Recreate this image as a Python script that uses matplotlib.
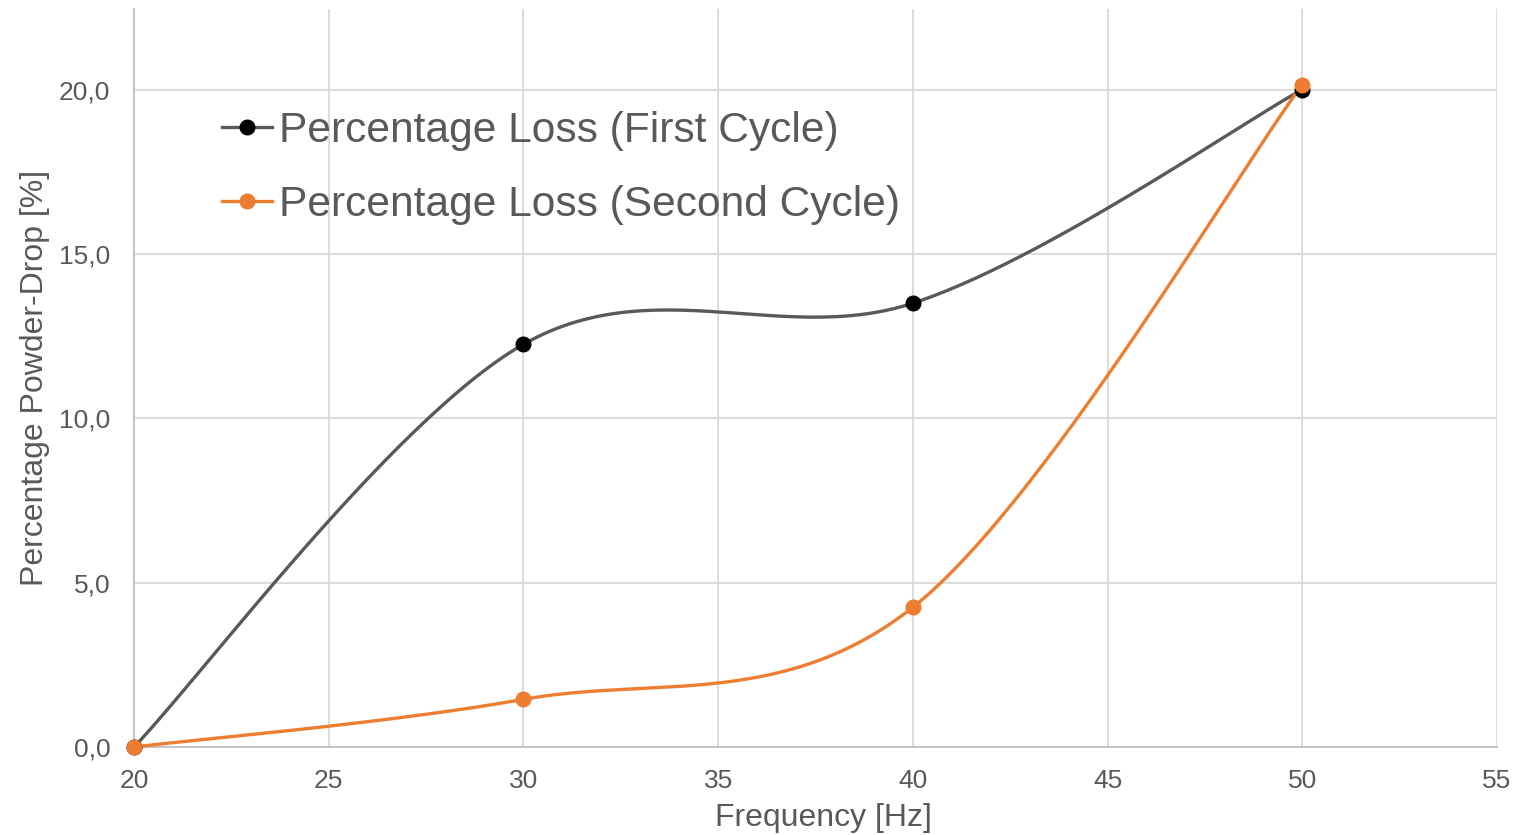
import matplotlib
matplotlib.use('Agg')
import matplotlib.pyplot as plt
from matplotlib.ticker import FuncFormatter, MultipleLocator
import numpy as np

# Data
frequency = [20, 30, 40, 50]
loss_first = [0.0, 12.25, 13.5, 20.0]
loss_second = [0.0, 1.45, 4.25, 20.15]

label_first = 'Percentage Loss (First Cycle)'
label_second = 'Percentage Loss (Second Cycle)'

TEXT = '#595959'
GRID = '#D9D9D9'
AXIS = '#BFBFBF'


def excel_smooth(xs, ys, n=60):
    """Bezier smoothing like Excel's 'smoothed line' (tangent = (P[i+1]-P[i-1])/6)."""
    pts = np.column_stack([xs, ys]).astype(float)
    padded = np.vstack([pts[0], pts, pts[-1]])
    out = []
    t = np.linspace(0, 1, n)[:, None]
    for i in range(len(pts) - 1):
        p0, p3 = pts[i], pts[i + 1]
        c1 = p0 + (padded[i + 2] - padded[i]) / 6
        c2 = p3 - (padded[i + 3] - padded[i + 1]) / 6
        seg = ((1 - t) ** 3) * p0 + 3 * ((1 - t) ** 2) * t * c1 + 3 * (1 - t) * t ** 2 * c2 + t ** 3 * p3
        out.append(seg if i == 0 else seg[1:])
    seg = np.vstack(out)
    return seg[:, 0], seg[:, 1]


plt.rcParams['font.family'] = ['Liberation Sans', 'DejaVu Sans']

fig = plt.figure(figsize=(15.19, 8.35), dpi=100)
ax = fig.add_axes([134 / 1519, 1 - 747 / 835, 1363 / 1519, 738 / 835])

# first cycle
sx, sy = excel_smooth(frequency, loss_first)
ax.plot(sx, sy, color='#595959', lw=2.4, zorder=3, solid_capstyle='round', clip_on=False)
ax.plot(frequency, loss_first, 'o', color='black', ms=10.5, zorder=4, clip_on=False)

# second cycle
sx, sy = excel_smooth(frequency, loss_second)
ax.plot(sx, sy, color='#ED7D31', lw=2.4, zorder=3, solid_capstyle='round', clip_on=False)
ax.plot(frequency, loss_second, 'o', color='#ED7D31', ms=10.5, zorder=5, clip_on=False)

# legend proxies
h1, = ax.plot([], [], '-o', color='#595959', mfc='black', mec='black', lw=2.4, ms=10.5)
h2, = ax.plot([], [], '-o', color='#ED7D31', lw=2.4, ms=10.5)
ax.legend([h1, h2], [label_first, label_second], loc='upper left',
          bbox_to_anchor=(0.0522, 0.885), frameon=False, fontsize=30.6,
          labelcolor=TEXT, handlelength=1.18, handletextpad=0.15,
          labelspacing=0.8, borderaxespad=0)

ax.set_xlim(20, 55)
ax.set_ylim(0, 22.45)
ax.xaxis.set_major_locator(MultipleLocator(5))
ax.yaxis.set_major_locator(MultipleLocator(5))
ax.yaxis.set_major_formatter(FuncFormatter(lambda v, p: f'{v:.1f}'.replace('.', ',')))

ax.grid(True, color=GRID, lw=1.3)
ax.set_axisbelow(True)
for s in ['top', 'right']:
    ax.spines[s].set_visible(False)
for s in ['left', 'bottom']:
    ax.spines[s].set_color(AXIS)
    ax.spines[s].set_linewidth(1.3)

ax.tick_params(length=0, labelsize=19, labelcolor=TEXT)
ax.tick_params(axis='y', pad=17)
ax.tick_params(axis='x', pad=16)

ax.set_xlabel('Frequency [Hz]', fontsize=23, color=TEXT)
ax.set_ylabel('Percentage Powder-Drop [%]', fontsize=23, color=TEXT)
ax.xaxis.set_label_coords(0.5055, -0.0962)
ax.yaxis.set_label_coords(-0.0726, 0.5)
ax.xaxis.label.set_va('center')
ax.yaxis.label.set_va('center')

fig.savefig('out.png', dpi=100)
